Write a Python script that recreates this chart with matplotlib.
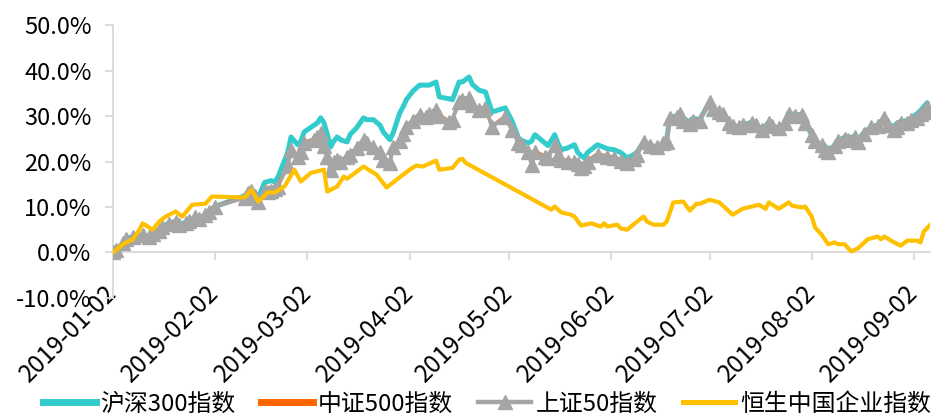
import numpy as np
import pandas as pd
import matplotlib
matplotlib.use('Agg')
import matplotlib.pyplot as plt
import matplotlib.dates as mdates

plt.rcParams['font.family'] = ['Noto Sans CJK SC', 'DejaVu Sans']

# A-share index dates (2019) and cumulative returns in %
ashare_dates = ['01-02','01-03','01-05','01-06','01-08','01-11','01-13','01-14','01-16','01-17',
                '01-19','01-21','01-22','01-24','01-25','01-27','01-28','01-30','01-31','02-02',
                '02-11','02-12','02-13','02-14','02-15','02-17','02-18','02-19','02-20','02-21',
                '02-24','02-25','02-27','02-28','03-01','03-04','03-05','03-06','03-07','03-08',
                '03-09','03-10','03-11','03-12','03-14','03-15','03-17','03-19','03-20','03-22',
                '03-24','03-25','03-27','03-28','03-30','03-31','04-01','04-03','04-05','04-07',
                '04-08','04-10','04-11','04-14','04-15','04-17','04-18','04-20','04-21','04-23',
                '04-25','04-27','05-01','05-03','05-05','05-06','05-08','05-09','05-10','05-13',
                '05-14','05-16','05-17','05-18','05-20','05-22','05-23','05-24','05-25','05-26',
                '05-29','06-01','06-03','06-05','06-07','06-09','06-10','06-12','06-14','06-16',
                '06-18','06-19','06-20','06-22','06-23','06-24','06-26','06-27','06-29','07-02',
                '07-03','07-05','07-06','07-08','07-09','07-11','07-12','07-15','07-16','07-18',
                '07-20','07-21','07-23','07-25','07-26','07-28','07-30','07-31','08-02','08-03',
                '08-05','08-06','08-07','08-09','08-10','08-12','08-13','08-15','08-16','08-18',
                '08-20','08-22','08-24','08-25','08-27','08-28','08-29','08-31','09-01','09-03',
                '09-04','09-06','09-07']
hs300 = [0, 0.5, 2.0, 3.0, 3.5, 3.9, 3.5, 4.2, 5.0, 5.7,
         6.5, 6.8, 6.2, 6.6, 7.0, 7.7, 7.3, 8.3, 9.0, 10.1,
         12.5, 13.0, 14.0, 13.0, 12.0, 15.4, 15.6, 15.8, 15.5, 16.5,
         22.0, 25.4, 23.7, 24.5, 26.5, 28.0, 28.5, 29.6, 28.5, 26.0,
         23.2, 24.5, 25.4, 24.8, 24.3, 26.0, 27.5, 29.6, 29.2, 29.2,
         28.0, 26.5, 24.8, 26.3, 30.7, 32.0, 33.6, 35.5, 36.8, 36.8,
         36.8, 37.5, 34.2, 33.8, 33.6, 37.5, 37.5, 38.6, 37.0, 35.7,
         35.3, 30.9, 31.8, 29.0, 25.2, 24.6, 24.1, 24.5, 25.9, 24.1,
         23.5, 25.9, 24.0, 22.6, 23.0, 23.7, 22.0, 21.3, 20.8, 22.0,
         23.7, 22.8, 22.6, 22.0, 20.8, 21.5, 22.1, 24.3, 23.5, 23.2,
         24.0, 25.0, 29.8, 30.0, 30.7, 29.5, 28.7, 29.5, 29.2, 33.1,
         31.5, 30.9, 30.5, 28.5, 27.8, 27.6, 28.0, 28.7, 28.0, 27.0,
         28.7, 27.8, 27.4, 28.5, 30.7, 30.3, 30.3, 28.5, 25.9, 24.5,
         23.7, 22.5, 22.1, 23.7, 24.5, 25.4, 25.0, 25.6, 24.8, 26.5,
         27.6, 28.0, 29.6, 28.0, 27.8, 28.5, 28.8, 29.0, 29.5, 30.5,
         31.2, 32.9, 32.0]
sz50 = [0, 0.5, 2.0, 3.0, 3.3, 3.9, 3.3, 4.0, 4.8, 5.7,
        6.3, 6.8, 6.0, 6.4, 7.0, 7.7, 7.3, 8.3, 9.0, 10.1,
        12.0, 13.0, 13.6, 12.5, 11.2, 13.5, 13.2, 13.5, 14.0, 14.5,
        19.0, 22.6, 21.0, 22.0, 24.0, 24.8, 25.4, 26.3, 23.5, 21.0,
        18.2, 19.8, 20.4, 20.0, 21.0, 21.5, 23.0, 24.8, 24.0, 23.2,
        22.0, 20.4, 19.7, 23.2, 24.5, 26.0, 27.6, 29.0, 30.3, 29.8,
        30.5, 31.4, 30.0, 28.7, 29.2, 33.1, 33.6, 34.0, 32.5, 31.4,
        31.8, 27.6, 29.8, 27.0, 24.1, 23.7, 22.0, 19.3, 22.1, 21.0,
        20.8, 23.7, 21.5, 20.4, 20.0, 20.0, 19.5, 18.6, 19.0, 20.0,
        21.5, 21.0, 20.8, 20.2, 19.7, 20.5, 21.5, 24.3, 23.5, 23.2,
        24.0, 24.3, 29.5, 29.8, 30.5, 29.0, 28.2, 29.0, 29.0, 33.1,
        31.5, 30.9, 30.5, 28.5, 27.8, 27.6, 28.0, 28.5, 28.0, 27.0,
        28.5, 27.8, 27.4, 28.5, 30.5, 30.0, 30.3, 28.5, 25.9, 24.5,
        23.7, 22.5, 22.1, 23.5, 24.5, 25.0, 24.8, 25.5, 24.3, 26.0,
        27.6, 27.8, 29.6, 28.0, 27.0, 27.5, 28.5, 28.5, 29.2, 29.5,
        30.5, 32.0, 30.8]
# 中证500 is drawn almost entirely underneath 上证50 in the picture
csi500 = [0, 0.5, 2.0, 3.0, 3.4, 3.9, 3.4, 4.1, 4.9, 5.8,
          6.4, 6.9, 6.1, 6.5, 7.1, 7.8, 7.4, 8.4, 9.1, 10.2,
          12.2, 13.1, 13.8, 12.6, 11.4, 13.7, 13.4, 13.7, 14.2, 14.8,
          19.3, 22.9, 21.3, 22.3, 24.2, 25.0, 25.6, 26.5, 23.8, 21.3,
          18.5, 20.0, 20.6, 20.2, 21.2, 21.7, 23.2, 25.0, 24.2, 23.4,
          22.2, 20.6, 19.9, 23.4, 24.7, 26.2, 27.8, 29.2, 30.5, 30.0,
          30.7, 31.6, 30.2, 28.9, 29.4, 33.3, 33.8, 34.2, 32.7, 31.6,
          32.0, 27.8, 30.0, 27.2, 24.3, 23.9, 22.2, 19.5, 22.3, 21.2,
          21.0, 23.9, 21.7, 20.6, 20.2, 20.2, 19.7, 18.8, 19.2, 20.2,
          21.7, 21.2, 21.0, 20.4, 19.9, 20.7, 21.7, 24.5, 23.7, 23.4,
          24.2, 24.5, 29.6, 29.9, 30.6, 29.2, 28.4, 29.2, 29.1, 33.2,
          31.6, 31.0, 30.6, 28.6, 27.9, 27.7, 28.1, 28.6, 28.1, 27.1,
          28.6, 27.9, 27.5, 28.6, 30.6, 30.1, 30.4, 28.6, 26.0, 24.6,
          23.8, 22.6, 22.2, 23.6, 24.6, 25.1, 24.9, 25.6, 24.4, 26.1,
          27.7, 27.9, 29.7, 28.1, 27.2, 27.7, 28.6, 28.7, 29.3, 29.8,
          30.8, 32.3, 31.0]

hscei_dates = ['01-02','01-05','01-08','01-10','01-11','01-14','01-16','01-18','01-21','01-23',
               '01-26','01-30','02-01','02-11','02-13','02-15','02-18','02-20','02-23','02-26',
               '02-28','03-03','03-07','03-08','03-11','03-13','03-14','03-19','03-23','03-26',
               '03-28','03-31','04-02','04-04','04-06','04-10','04-11','04-15','04-17','04-18',
               '04-19','05-15','05-16','05-18','05-21','05-22','05-24','05-27','05-30','05-31',
               '06-01','06-04','06-05','06-07','06-10','06-12','06-13','06-15','06-18','06-19',
               '06-21','06-24','06-26','06-28','06-29','07-02','07-05','07-09','07-12','07-17',
               '07-19','07-20','07-23','07-26','07-27','07-30','07-31','08-02','08-03','08-05',
               '08-07','08-09','08-10','08-12','08-14','08-16','08-19','08-22','08-23','08-24',
               '08-27','08-29','08-31','09-03','09-04','09-05','09-07']
hscei = [0, 1.8, 2.9, 5.0, 6.4, 5.0, 6.8, 7.9, 9.0, 7.9,
         10.5, 10.7, 12.3, 12.1, 13.8, 11.2, 13.2, 13.2, 14.5, 18.2,
         15.6, 17.5, 18.2, 13.4, 14.5, 16.7, 16.2, 18.9, 17.1, 14.3,
         15.4, 17.1, 18.2, 19.1, 18.9, 20.2, 18.2, 18.6, 20.4, 20.6,
         19.7, 9.4, 10.1, 8.8, 8.3, 7.9, 5.9, 6.4, 5.7, 6.4,
         5.7, 6.1, 5.3, 5.0, 6.8, 7.9, 6.8, 6.1, 6.1, 6.8,
         11.0, 11.2, 9.2, 10.7, 10.7, 11.6, 11.0, 8.3, 9.6, 10.5,
         9.6, 11.0, 9.6, 11.0, 10.3, 9.9, 10.1, 7.9, 5.5, 3.9,
         1.8, 2.2, 1.8, 1.8, 0.2, 0.9, 2.9, 3.5, 2.9, 3.5,
         2.2, 1.5, 2.6, 2.6, 2.2, 4.6, 6.1]

tick_dates = ['01-02','02-02','03-02','04-02','05-02','06-02','07-02','08-02','09-02']
yticks = [-10, 0, 10, 20, 30, 40, 50]

def to_dt(lst):
    return pd.to_datetime(['2019-' + s for s in lst])

fig = plt.figure(figsize=(9.46, 4.19), dpi=100)
ax = fig.add_axes([0.1195, 0.289, 0.864, 0.651])

ax.plot(to_dt(ashare_dates), hs300, color='#33CCCC', lw=3.6, label='沪深300指数', zorder=2)
ax.plot(to_dt(ashare_dates), csi500, color='#FF6600', lw=2.4, label='中证500指数', zorder=3)
ax.plot(to_dt(ashare_dates), sz50, color='#A5A5A5', lw=2.8, marker='^', ms=10,
        mec='#A5A5A5', label='上证50指数', zorder=4)
ax.plot(to_dt(hscei_dates), hscei, color='#FFC000', lw=3.0, label='恒生中国企业指数', zorder=5)

ax.set_ylim(-10, 50)
ax.set_xlim(pd.Timestamp('2019-01-02'), pd.Timestamp('2019-09-07'))
ax.set_yticks(yticks)
ax.set_yticklabels(['%.1f%%' % v for v in yticks])
ax.set_xticks(to_dt(tick_dates))
ax.xaxis.set_major_formatter(mdates.DateFormatter('%Y-%m-%d'))

for s in ['top', 'right']:
    ax.spines[s].set_visible(False)
ax.spines['bottom'].set_position(('data', 0))
for s in ['left', 'bottom']:
    ax.spines[s].set_color('#D9D9D9')
    ax.spines[s].set_linewidth(1.3)
ax.tick_params(axis='both', colors='#D9D9D9', width=1.3, length=5.5, labelsize=17, labelcolor='black')
ax.tick_params(axis='y', pad=10)
ax.tick_params(axis='x', pad=21, labelsize=17.5)
plt.setp(ax.get_xticklabels(), rotation=45, ha='right', va='center', rotation_mode='anchor')

leg = ax.legend(loc='center', bbox_to_anchor=(0.515, 0.036), bbox_transform=fig.transFigure,
                ncol=4, frameon=False, fontsize=17.2, handlelength=2.2, handletextpad=0.2,
                columnspacing=1.05, borderpad=0, borderaxespad=0)
for h, w in zip(leg.get_lines(), [5, 5, 3.2, 3.6]):
    h.set_linewidth(w)

fig.savefig('out.png', dpi=100)
